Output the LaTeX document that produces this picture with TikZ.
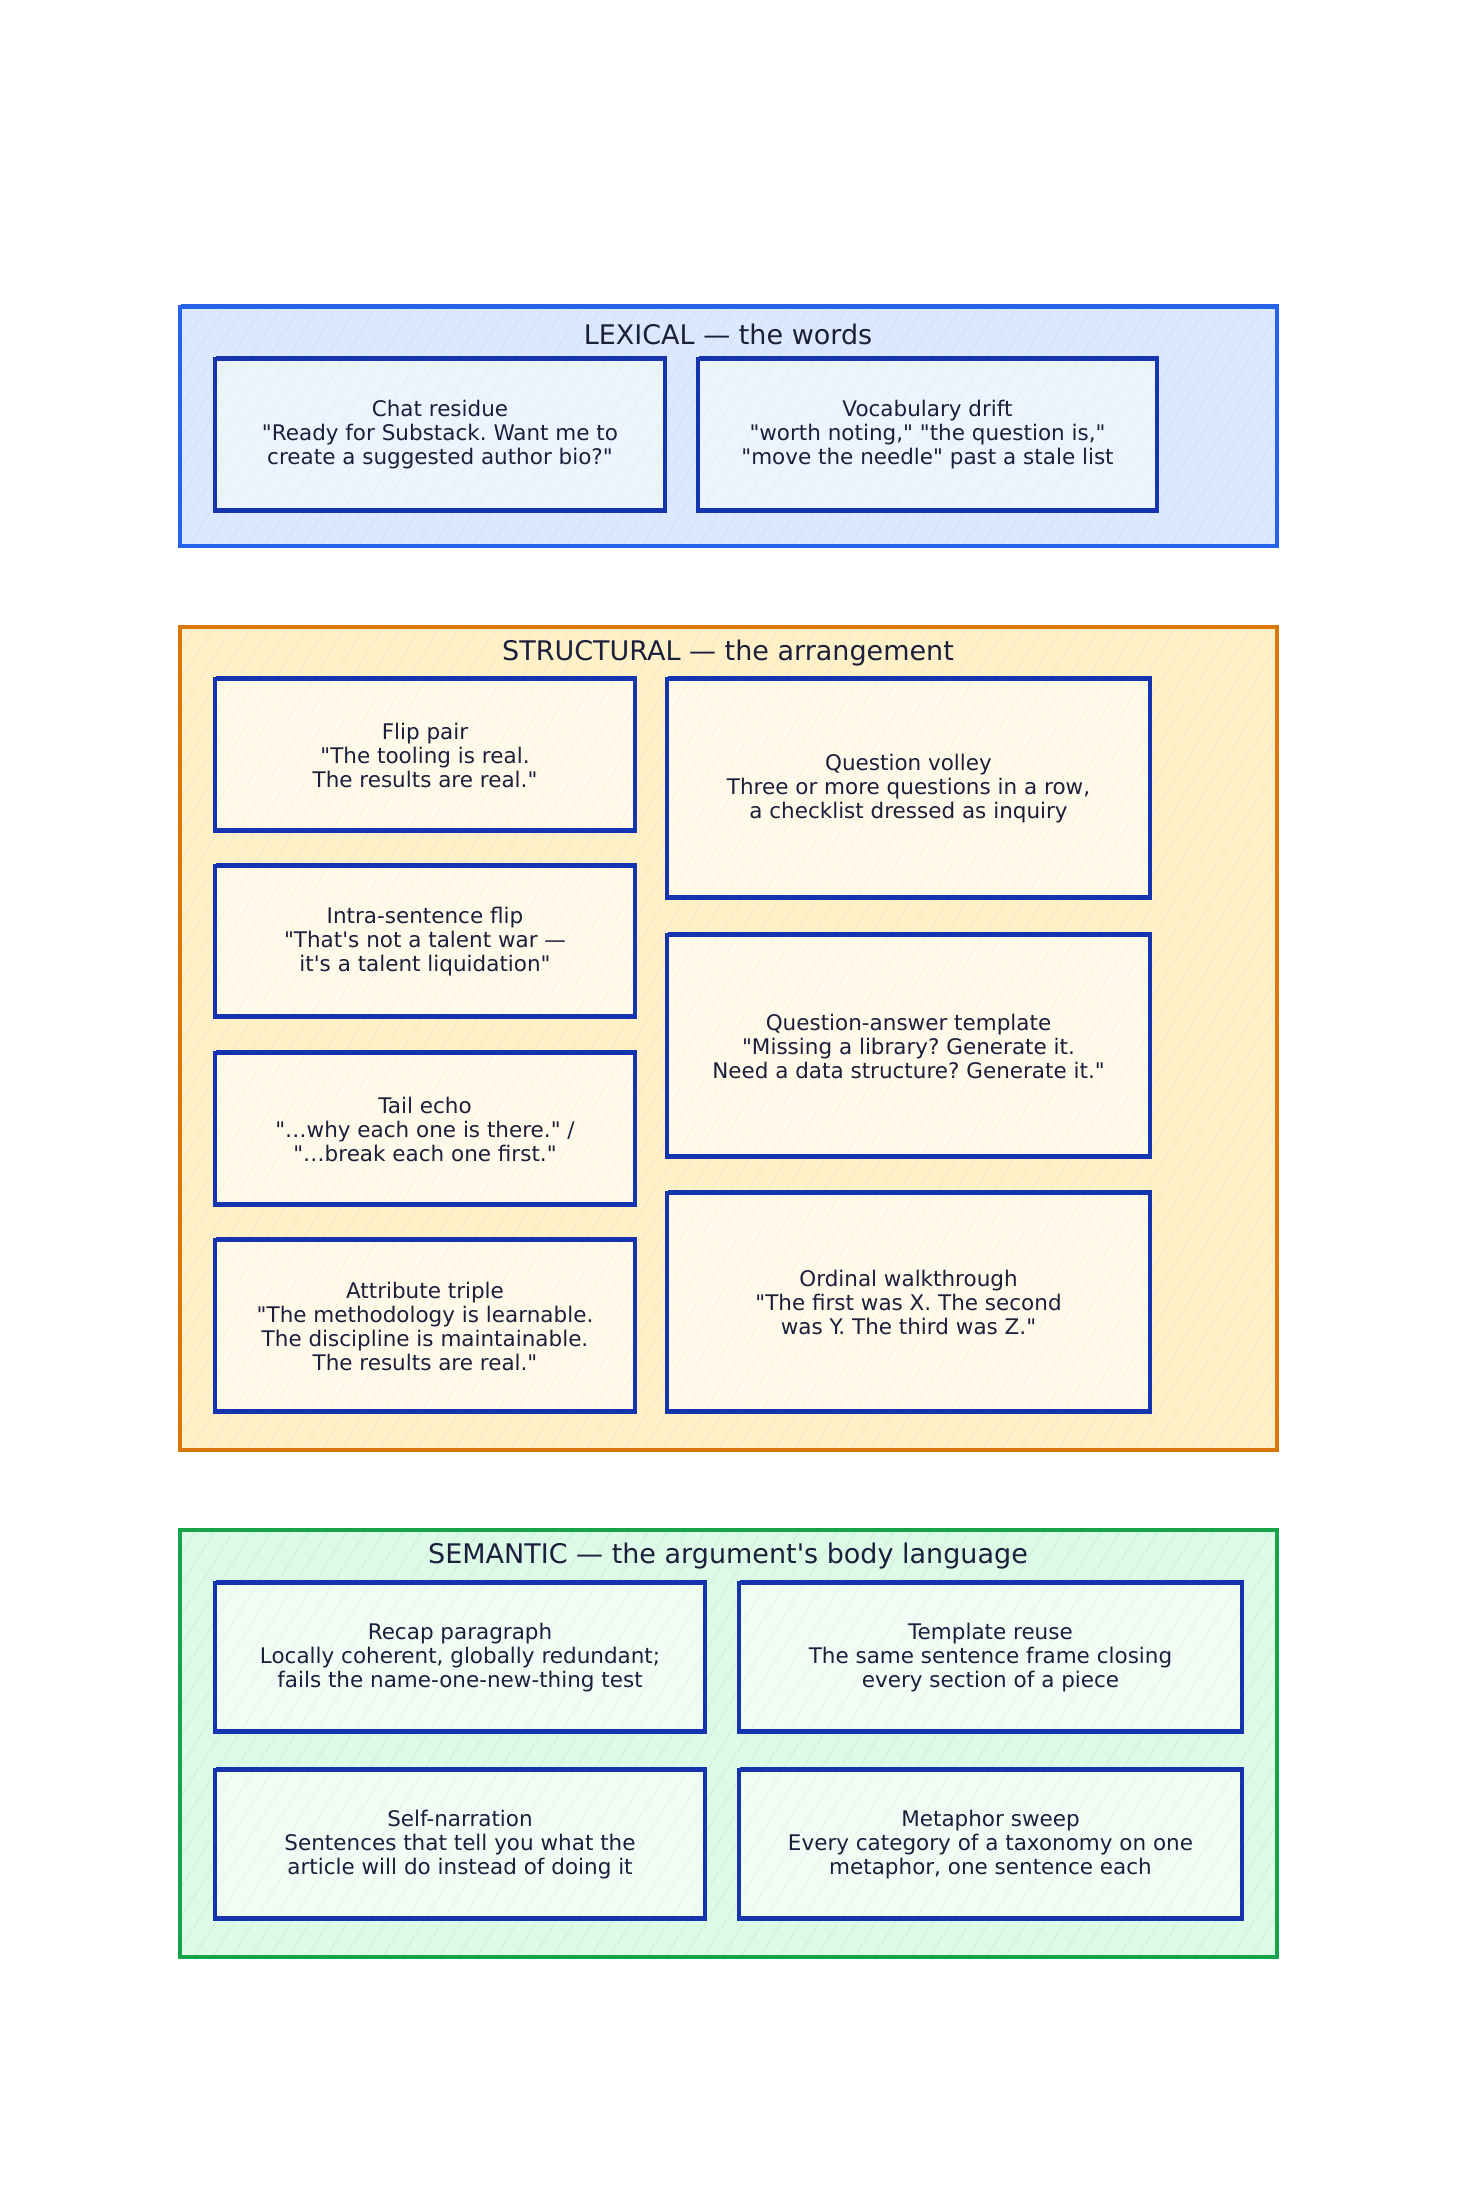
\documentclass[tikz,border=0pt]{standalone}
\usepackage{fontspec}
\setmainfont{DejaVu Sans}[Ligatures=TeXOff]
\usepackage{xcolor}
\usetikzlibrary{patterns.meta}

\definecolor{lexline}{HTML}{2563EB}
\definecolor{lexfill}{HTML}{DBE8FD}
\definecolor{lexcard}{HTML}{EEF4FE}
\definecolor{strline}{HTML}{D97706}
\definecolor{strfill}{HTML}{FEF1C8}
\definecolor{strcard}{HTML}{FEF9E8}
\definecolor{semline}{HTML}{16A34A}
\definecolor{semfill}{HTML}{DCFAE6}
\definecolor{semcard}{HTML}{F0FCF4}
\definecolor{cardline}{HTML}{1434B0}
\definecolor{inktext}{HTML}{1B1F3B}

\tikzset{
  panel/.style={draw=#1line, line width=3.2pt, preaction={fill=#1fill},
    pattern={Lines[angle=58,distance=16pt,line width=0.6pt]}, pattern color=#1line!22,
    inner sep=0pt,
    postaction={draw=#1line, line width=1pt, transform canvas={shift={(1.5pt,2pt)}}}},
  card/.style={draw=cardline, line width=4pt, preaction={fill=#1card},
    pattern={Lines[angle=58,distance=16pt,line width=0.5pt]}, pattern color=#1line!14,
    align=center, text=inktext, inner sep=0pt, font=\fontsize{21.5}{24}\selectfont,
    postaction={draw=cardline, line width=1.2pt, transform canvas={shift={(1.5pt,2pt)}}}},
  paneltitle/.style={text=inktext, font=\fontsize{27}{32}\selectfont}
}

\begin{document}
\frenchspacing
\begin{tikzpicture}[x=1pt,y=-1pt]
  \useasboundingbox[fill=white] (0,0) rectangle (1456,2207);

  % lexical band
  \node[panel=lex, minimum width=1097pt, minimum height=239pt] (lexical) at (728.5,426.5) {};
  \node[paneltitle] (lextitle) at (728,334) {LEXICAL — the words};
  \node[card=lex, minimum width=450pt, minimum height=152pt] (chat) at (440,435)
    {Chat residue\\"Ready for Substack. Want me to\\create a suggested author bio?"};
  \node[card=lex, minimum width=459pt, minimum height=152pt] (vocab) at (927.5,435)
    {Vocabulary drift\\"worth noting," "the question is,"\\"move the needle" past a stale list};

  % structural band
  \node[panel=str, minimum width=1097pt, minimum height=823pt] (structural) at (728.5,1038.5) {};
  \node[paneltitle] (strtitle) at (728,653) {STRUCTURAL — the arrangement};
  \node[card=str, minimum width=420pt, minimum height=152pt] (flip) at (425,755)
    {Flip pair\\"The tooling is real.\\The results are real."};
  \node[card=str, minimum width=420pt, minimum height=151pt] (intra) at (425,941.5)
    {Intra-sentence flip\\"That's not a talent war —\\it's a talent liquidation"};
  \node[card=str, minimum width=420pt, minimum height=152pt] (tail) at (425,1129)
    {Tail echo\\"…why each one is there." /\\"…break each one first."};
  \node[card=str, minimum width=420pt, minimum height=172pt] (triple) at (425,1326)
    {Attribute triple\\"The methodology is learnable.\\The discipline is maintainable.\\The results are real."};
  \node[card=str, minimum width=483pt, minimum height=219pt] (volley) at (908.5,788.5)
    {Question volley\\Three or more questions in a row,\\a checklist dressed as inquiry};
  \node[card=str, minimum width=483pt, minimum height=222pt] (qatemplate) at (908.5,1046)
    {Question-answer template\\"Missing a library? Generate it.\\Need a data structure? Generate it."};
  \node[card=str, minimum width=483pt, minimum height=219pt] (ordinal) at (908.5,1302.5)
    {Ordinal walkthrough\\"The first was X. The second\\was Y. The third was Z."};

  % semantic band
  \node[panel=sem, minimum width=1097pt, minimum height=427pt] (semantic) at (728.5,1743.5) {};
  \node[paneltitle] (semtitle) at (728,1556) {SEMANTIC — the argument's body language};
  \node[card=sem, minimum width=490pt, minimum height=149pt] (recap) at (460,1657.5)
    {Recap paragraph\\Locally coherent, globally redundant;\\fails the name-one-new-thing test};
  \node[card=sem, minimum width=503pt, minimum height=149pt] (reuse) at (990.5,1657.5)
    {Template reuse\\The same sentence frame closing\\every section of a piece};
  \node[card=sem, minimum width=490pt, minimum height=149pt] (selfnarr) at (460,1844.5)
    {Self-narration\\Sentences that tell you what the\\article will do instead of doing it};
  \node[card=sem, minimum width=503pt, minimum height=149pt] (sweep) at (990.5,1844.5)
    {Metaphor sweep\\Every category of a taxonomy on one\\metaphor, one sentence each};
\end{tikzpicture}
\end{document}
